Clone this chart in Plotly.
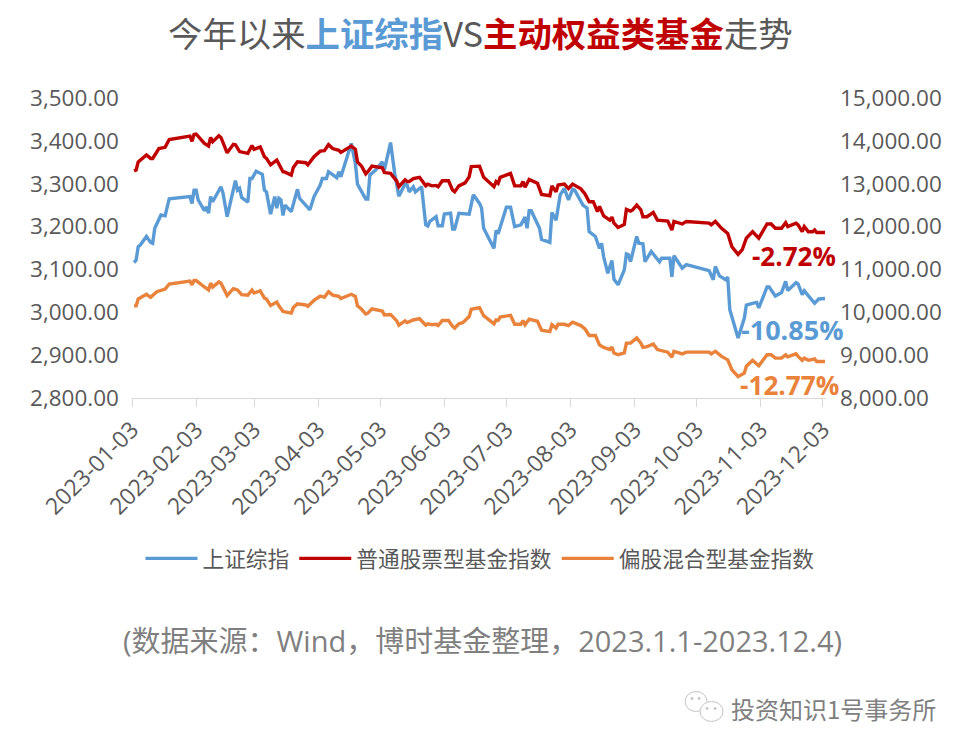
import pandas as pd
import plotly.graph_objects as go

START = pd.Timestamp("2023-01-03")
tick_labels = ["2023-01-03","2023-02-03","2023-03-03","2023-04-03","2023-05-03","2023-06-03",
               "2023-07-03","2023-08-03","2023-09-03","2023-10-03","2023-11-03","2023-12-03"]

sh_days = [1,2,3,4,7,9,10,11,14,16,18,28,29,30,31,32,35,36,37,38,39,43,44,46,50,51,52,53,56,57,58,60,63,64,65,67,69,70,71,72,73,74,77,80,81,86,88,91,92,94,95,99,100,101,106,108,109,113,114,115,118,121,122,125,127,129,132,133,134,136,137,140,142,143,144,147,148,150,151,154,155,156,158,162,163,165,168,169,170,175,176,177,181,183,185,188,190,191,192,193,197,198,202,203,205,207,209,211,213,214,218,220,221,224,226,227,228,230,232,233,235,238,239,240,241,244,245,247,248,251,254,255,256,260,261,262,266,268,279,281,282,284,287,288,289,293,296,297,300,302,303,307,308,311,314,316,317,321,322,324,325,329,330,332,335]
sh_values = [3116,3122,3153,3157,3177,3163,3161,3196,3227,3225,3265,3270,3254,3285,3285,3262,3237,3246,3231,3270,3258,3293,3278,3223,3307,3285,3289,3268,3257,3312,3312,3329,3322,3285,3281,3229,3270,3243,3266,3262,3226,3250,3235,3287,3266,3239,3270,3297,3312,3312,3328,3314,3328,3316,3394,3347,3299,3264,3264,3320,3333,3351,3332,3396,3324,3271,3299,3297,3281,3293,3281,3293,3204,3201,3212,3223,3202,3202,3229,3231,3194,3194,3231,3231,3229,3274,3254,3243,3196,3149,3191,3183,3245,3245,3200,3204,3222,3196,3237,3237,3196,3170,3163,3233,3215,3274,3289,3262,3287,3285,3250,3243,3188,3177,3149,3161,3130,3091,3121,3077,3064,3099,3136,3134,3118,3177,3161,3160,3118,3142,3126,3118,3126,3126,3083,3132,3103,3111,3097,3076,3107,3085,3076,3082,3006,2940,2986,3017,3021,3023,3010,3059,3059,3038,3046,3072,3051,3069,3066,3041,3050,3029,3021,3031,3032]

eq_days = [1,2,3,7,9,10,13,16,18,28,29,30,31,35,37,38,39,42,43,46,49,50,52,56,58,59,62,64,65,67,70,71,73,74,77,78,80,84,85,88,91,93,95,97,100,101,106,108,109,111,113,114,116,121,122,125,127,128,129,132,133,134,136,139,142,143,145,147,148,150,153,155,156,158,161,163,164,168,170,175,176,177,178,183,185,188,189,190,192,196,198,202,203,205,206,209,211,213,217,219,221,223,225,226,228,231,232,233,235,238,239,241,242,244,246,247,249,252,254,259,261,262,266,268,279,280,282,285,288,290,293,295,297,300,303,307,309,311,314,316,317,321,322,324,325,327,329,330,331,335]
eq_values = [13300,13320,13510,13670,13590,13590,13820,13850,14030,14110,13990,14150,14160,13940,13880,14080,13980,14120,14080,13720,13920,13910,13750,13710,13890,13800,13860,13630,13590,13440,13550,13460,13280,13270,13200,13380,13510,13490,13440,13630,13760,13770,13910,13820,13780,13730,13880,13800,13510,13410,13230,13280,13410,13370,13260,13240,13110,13060,12930,13090,13050,13050,13120,13150,12950,12990,12950,12960,12930,13070,13070,12850,12810,12950,13020,13160,13400,13410,13150,12930,13050,13010,13150,13240,12950,12950,13050,12920,13100,13010,12750,12720,12950,12810,12970,12990,12890,12990,12880,12760,12580,12580,12350,12470,12250,12150,12220,12080,11980,12050,12400,12360,12390,12500,12390,12230,12230,12330,12150,12130,11920,12120,12060,12120,12080,12040,12120,11960,11840,11530,11350,11460,11730,11880,11730,12060,12060,11960,11960,12090,12000,12080,12040,11880,12000,11880,11880,11920,11860,11860]

mix_days = [1,2,3,5,7,9,12,16,18,28,29,30,31,35,37,38,39,42,43,46,49,51,53,56,58,59,62,64,65,67,70,71,73,74,77,78,80,84,85,88,91,93,95,97,100,101,106,108,109,111,113,114,116,121,122,125,127,128,129,132,133,136,139,142,143,145,147,148,150,153,155,156,158,160,163,164,168,170,175,176,177,178,183,185,188,189,190,192,196,198,202,203,205,206,209,211,213,217,219,221,224,225,226,228,231,232,233,235,238,239,241,242,244,246,247,249,252,254,259,261,262,266,268,279,280,282,285,288,290,293,296,297,300,303,307,309,311,314,316,317,321,322,324,325,327,330,331,335]
mix_values = [10150,10150,10310,10370,10420,10350,10480,10540,10660,10730,10640,10740,10740,10590,10520,10680,10590,10710,10680,10390,10550,10520,10410,10400,10520,10450,10500,10330,10310,10160,10240,10150,10020,10010,9980,10110,10200,10170,10140,10280,10380,10350,10480,10400,10370,10320,10420,10370,10150,10070,9960,9980,10080,10030,9940,9950,9840,9800,9700,9800,9760,9820,9850,9700,9730,9710,9720,9690,9810,9810,9670,9630,9730,9760,9900,10070,10110,9920,9730,9820,9810,9890,9930,9720,9720,9810,9710,9840,9790,9580,9550,9710,9630,9720,9720,9690,9770,9690,9610,9460,9460,9320,9240,9180,9130,9190,9050,9010,9050,9280,9280,9320,9400,9280,9180,9200,9260,9130,9070,8950,9090,9030,9070,9070,9030,9090,8970,8890,8660,8500,8580,8740,8880,8750,9010,9010,8930,8930,9010,8960,9030,8970,8880,8930,8880,8910,8850,8850]

left_ticks = [2800,2900,3000,3100,3200,3300,3400,3500]
right_ticks = [8000,9000,10000,11000,12000,13000,14000,15000]
series_names = ["上证综指","普通股票型基金指数","偏股混合型基金指数"]
BLUE, RED, ORANGE = "#5b9bd5", "#c00000", "#e9823a"
W, H = 967, 752
L, R, T, B = 131.5, 826, 97.5, 398
FONT = "Open Sans, Noto Sans CJK SC, sans-serif"
CJK = "Noto Sans CJK SC, sans-serif"
GRAY = "#595959"

def dates(days):
    return [START + pd.Timedelta(days=int(d)) for d in days]

fig = go.Figure()
fig.add_trace(go.Scatter(x=dates(sh_days), y=sh_values, name=series_names[0], mode="lines",
                         line=dict(color=BLUE, width=3.4), yaxis="y"))
fig.add_trace(go.Scatter(x=dates(eq_days), y=eq_values, name=series_names[1], mode="lines",
                         line=dict(color=RED, width=3.4), yaxis="y2"))
fig.add_trace(go.Scatter(x=dates(mix_days), y=mix_values, name=series_names[2], mode="lines",
                         line=dict(color=ORANGE, width=3.4), yaxis="y2"))

def note(text, px, py, size, color, bold=False, font=FONT):
    t = f"<b>{text}</b>" if bold else text
    fig.add_annotation(text=t, xref="paper", yref="paper",
                       x=(px - L) / (R - L), y=(B - py) / (B - T),
                       showarrow=False, font=dict(size=size, color=color, family=font),
                       xanchor="center", yanchor="middle")

title = (f'今年以来<b><span style="color:{BLUE}">上证综指</span></b>VS'
         f'<b><span style="color:{RED}">主动权益类基金</span></b>走势')
note(title, 480, 31, 34.4, GRAY, font=CJK)
note("-2.72%", 793.5, 256, 26, RED, bold=True)
note("-10.85%", 792, 329, 27, BLUE, bold=True)
note("-12.77%", 789, 385, 26.2, ORANGE, bold=True)
note("(数据来源：Wind，博时基金整理，2023.1.1-2023.12.4)", 482.5, 641, 29, "#7f7f7f")
note("投资知识1号事务所", 833.5, 709, 24, "#808080", font=CJK)

def circle(cx, cy, rx, ry, line="#c4c4c4", fill="rgba(255,255,255,0.9)"):
    fig.add_shape(type="circle", xref="paper", yref="paper",
                  x0=(cx - rx - L) / (R - L), x1=(cx + rx - L) / (R - L),
                  y0=(B - cy - ry) / (B - T), y1=(B - cy + ry) / (B - T),
                  line=dict(color=line, width=1), fillcolor=fill)
circle(696, 702, 11, 10)
circle(711.5, 712, 11.5, 10)
for ex, ey in [(692, 699), (699, 699), (707, 709), (715, 709)]:
    circle(ex, ey, 1, 1, line="#c4c4c4", fill="#c4c4c4")

fig.update_layout(
    width=W, height=H, autosize=False,
    paper_bgcolor="white", plot_bgcolor="white",
    margin=dict(l=L, r=W - R, t=T, b=H - B, autoexpand=False),
    font=dict(family=FONT, color=GRAY, size=22),
    xaxis=dict(type="date", range=[START, START + pd.Timedelta(days=335.5)],
               tickmode="array", tickvals=[pd.Timestamp(t) for t in tick_labels], ticktext=tick_labels,
               tickangle=-45, ticks="outside", ticklen=8, tickcolor="#d9d9d9", tickwidth=1,
               showline=True, linecolor="#d9d9d9", linewidth=1, showgrid=False, zeroline=False,
               tickfont=dict(size=23, color=GRAY, family=FONT)),
    yaxis=dict(range=[2800, 3500], tickmode="array", tickvals=left_ticks, tickformat=",.2f",
               showgrid=False, zeroline=False, showline=False, ticks="", ticklabelstandoff=12,
               tickfont=dict(size=22.5, color=GRAY, family=FONT)),
    yaxis2=dict(range=[8000, 15000], tickmode="array", tickvals=right_ticks, tickformat=",.2f",
                overlaying="y", side="right", showgrid=False, zeroline=False, showline=False,
                ticks="", ticklabelstandoff=13,
                tickfont=dict(size=22.5, color=GRAY, family=FONT)),
    legend=dict(orientation="h", xref="paper", yref="paper", x=(140 - L) / (R - L), y=(B - 538) / (B - T),
                xanchor="left", yanchor="top", itemwidth=52, traceorder="normal",
                font=dict(size=21.7, color=GRAY, family=CJK), bgcolor="rgba(0,0,0,0)"),
)
fig.write_html("out.html", config=dict(displayModeBar=False),
               post_script="document.body.style.margin='0';")
